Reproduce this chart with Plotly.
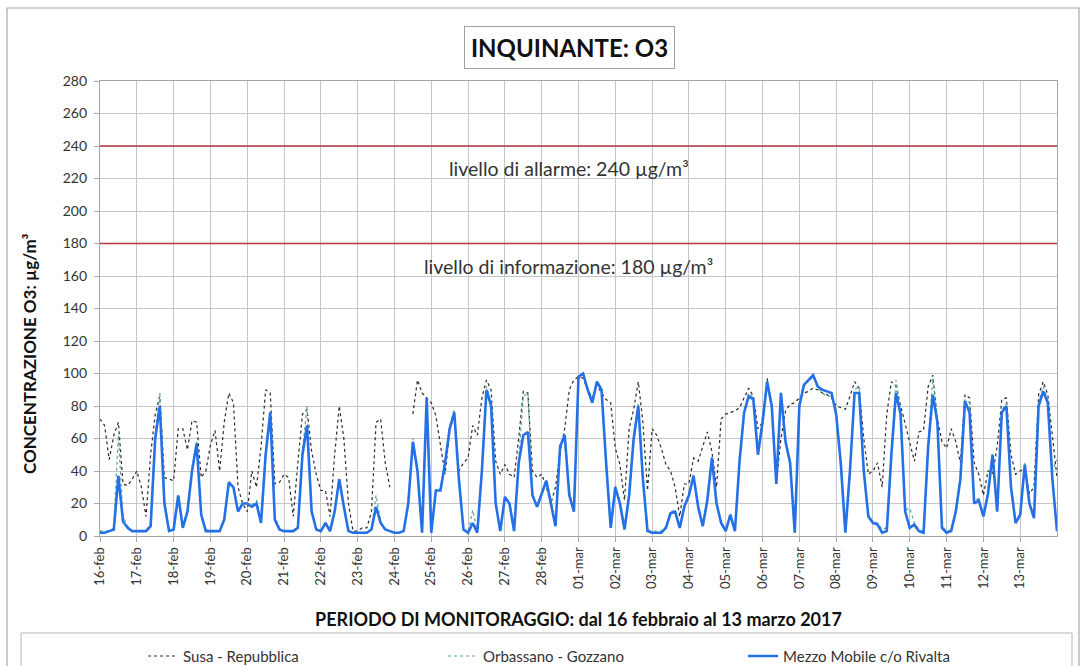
import pandas as pd
import plotly.graph_objects as go

# ---------------- data (3-hour samples, 16-feb 00:00 -> 14-mar 00:00) ----------------
START = "2017-02-16 00:00"
STEP = "3h"

DAY_LABELS = ["16-feb", "17-feb", "18-feb", "19-feb", "20-feb", "21-feb", "22-feb",
              "23-feb", "24-feb", "25-feb", "26-feb", "27-feb", "28-feb",
              "01-mar", "02-mar", "03-mar", "04-mar", "05-mar", "06-mar", "07-mar",
              "08-mar", "09-mar", "10-mar", "11-mar", "12-mar", "13-mar"]

SUSA = [
    72, 68, 47, 62, 70, 32, 31, 35,   # 16-feb
    40, 30, 12, 50, 75, 86, 36, 35,   # 17-feb
    34, 66, 66, 53, 71, 70, 36, 40,   # 18-feb
    56, 65, 40, 70, 88, 82, 30, 20,   # 19-feb
    15, 40, 30, 55, 90, 88, 32, 33,   # 20-feb
    38, 36, 12, 45, 75, 78, 52, 38,   # 21-feb
    28, 28, 12, 50, 80, 60, 20, 3,    # 22-feb
    3, 5, 5, 15, 70, 72, 45, 30,      # 23-feb
    None, None, None, None, 75, 96, 88, 85,  # 24-feb
    82, 74, 55, 38, 65, 75, 40, 45,   # 25-feb
    48, 68, 62, 85, 96, 90, 46, 38,   # 26-feb
    44, 38, 36, 60, 89, 88, 40, 36,   # 27-feb
    38, 30, 20, 30, 52, 66, 90, 96,   # 28-feb
    98, 97, 90, 85, 93, 88, 84, 82,   # 01-mar
    54, 44, 22, 66, 78, 95, 70, 28,   # 02-mar
    66, 62, 54, 44, 40, 30, 12, 32,   # 03-mar
    32, 48, 46, 55, 64, 52, 30, 72,   # 04-mar
    75, 76, 77, 79, 85, 91, 86, 66,   # 05-mar
    70, 97, 80, 33, 60, 77, 81, 82,   # 06-mar
    85, 88, 89, 91, 90, 88, 87, 85,   # 07-mar
    80, 79, 78, 86, 95, 91, 60, 38,   # 08-mar
    40, 45, 30, 75, 95, 92, 80, 70,   # 09-mar
    58, 46, 64, 65, 92, 99, 72, 58,   # 10-mar
    54, 66, 58, 45, 87, 85, 45, 38,   # 11-mar
    25, 40, 38, 55, 84, 85, 50, 38,   # 12-mar
    40, 42, 26, 30, 87, 95, 87, 60,   # 13-mar
    36,
]

ORBASSANO = [
    3, 3, 3, 5, 62, 12, 6, 3,
    3, 3, 3, 8, 62, 88, 22, 4,
    4, 22, 6, 16, 42, 58, 14, 4,
    3, 3, 3, 11, 34, 30, 16, 20,
    20, 19, 22, 10, 52, 77, 12, 5,
    3, 3, 3, 6, 52, 80, 16, 4,
    3, 8, 3, 15, 36, 18, 3, 2,
    2, 2, 2, 5, 25, 9, 4, 3,
    2, 2, 3, 22, 60, 42, 3, 84,
    3, 28, 29, 46, 68, 78, 36, 5,
    2, 16, 3, 42, 92, 82, 22, 3,
    25, 20, 4, 47, 86, 88, 26, 18,
    27, 35, 22, 8, 56, 63, 28, 16,
    97, 100, 90, 84, 95, 90, 46, 6,
    31, 22, 6, 26, 62, 82, 36, 4,
    3, 3, 3, 6, 15, 16, 6, 19,
    26, 38, 19, 7, 23, 49, 21, 9,
    4, 14, 4, 47, 77, 88, 85, 50,
    72, 96, 82, 34, 89, 58, 46, 3,
    82, 94, 95, 98, 91, 88, 86, 86,
    76, 46, 3, 42, 90, 92, 42, 13,
    9, 8, 4, 5, 52, 96, 78, 16,
    17, 8, 4, 3, 57, 97, 72, 6,
    3, 4, 16, 36, 84, 82, 22, 23,
    13, 27, 51, 16, 77, 82, 32, 9,
    14, 45, 21, 12, 82, 92, 84, 40,
    47,
]

MEZZO = [
    2, 2, 3, 4, 37, 9, 5, 3,          # 16-feb
    3, 3, 3, 6, 60, 80, 20, 3,        # 17-feb
    4, 25, 5, 15, 40, 57, 13, 3,      # 18-feb
    3, 3, 3, 10, 33, 30, 15, 20,      # 19-feb
    20, 18, 20, 8, 50, 76, 10, 4,     # 20-feb
    3, 3, 3, 5, 50, 68, 15, 4,        # 21-feb
    3, 8, 3, 15, 35, 18, 3, 2,        # 22-feb
    2, 2, 2, 4, 18, 8, 4, 3,          # 23-feb
    2, 2, 3, 20, 58, 40, 2, 85,       # 24-feb
    2, 28, 28, 45, 66, 76, 35, 4,     # 25-feb
    2, 8, 2, 40, 90, 80, 20, 3,       # 26-feb
    24, 20, 3, 45, 62, 64, 25, 18,    # 27-feb
    26, 34, 20, 6, 55, 62, 25, 15,    # 28-feb
    98, 100, 90, 82, 95, 90, 45, 5,   # 01-mar
    30, 20, 4, 25, 60, 80, 35, 3,     # 02-mar
    2, 2, 2, 5, 14, 15, 5, 18,        # 03-mar
    25, 37, 18, 6, 22, 48, 20, 8,     # 04-mar
    3, 13, 3, 46, 76, 86, 84, 50,     # 05-mar
    70, 95, 80, 32, 88, 58, 45, 2,    # 06-mar
    80, 93, 96, 99, 92, 90, 89, 88,   # 07-mar
    75, 45, 2, 40, 88, 88, 40, 12,    # 08-mar
    8, 7, 2, 3, 50, 88, 75, 15,       # 09-mar
    5, 7, 3, 2, 55, 87, 70, 5,        # 10-mar
    2, 3, 15, 35, 83, 76, 20, 22,     # 11-mar
    12, 26, 50, 15, 76, 80, 30, 8,    # 12-mar
    13, 44, 20, 11, 80, 89, 82, 35,   # 13-mar
    3,
]

THRESHOLDS = [240, 180]
THRESHOLD_LABELS = ["livello di allarme: 240 µg/m³", "livello di informazione: 180 µg/m³"]
THRESHOLD_LABEL_Y = [226, 166]

# ---------------------------------------------------------------------------------------
times = pd.date_range(START, periods=len(MEZZO), freq=STEP)
day_ticks = pd.date_range(START, periods=len(DAY_LABELS), freq="1D")

FONT = "Lato, 'Open Sans', sans-serif"

fig = go.Figure()
fig.add_trace(go.Scatter(x=times, y=SUSA, name="Susa - Repubblica", mode="lines",
                         line=dict(color="#2b2b2b", width=1.2, dash="dot")))
fig.add_trace(go.Scatter(x=times, y=ORBASSANO, name="Orbassano - Gozzano", mode="lines",
                         line=dict(color="#5aa39b", width=1.2, dash="dot")))
fig.add_trace(go.Scatter(x=times, y=MEZZO, name="Mezzo Mobile c/o Rivalta", mode="lines",
                         line=dict(color="#2470e6", width=2.6)))

for th in THRESHOLDS:
    fig.add_hline(y=th, line=dict(color="#b8363f", width=1.6), layer="above")

for txt, yy in zip(THRESHOLD_LABELS, THRESHOLD_LABEL_Y):
    fig.add_annotation(x=0.49, xref="paper", y=yy, yref="y", text=txt, showarrow=False,
                       xanchor="center", yanchor="middle",
                       font=dict(family=FONT, size=19.5, color="#333333"))

# title in a box
fig.add_annotation(x=0.491, xref="paper", y=1.0747, yref="paper",
                   xanchor="center", yanchor="middle",
                   text="<b>INQUINANTE: O3</b>", showarrow=False,
                   font=dict(family=FONT, size=24, color="#111111"),
                   bordercolor="#a0a0a0", borderwidth=1, borderpad=6, bgcolor="white")

# y-axis title (placed like the original, slightly below the plot centre)
fig.add_annotation(x=-0.0742, xref="paper", y=0.402, yref="paper",
                   xanchor="center", yanchor="middle", textangle=-90,
                   text="<b>CONCENTRAZIONE O3: µg/m³</b>", showarrow=False,
                   font=dict(family=FONT, size=17, color="#111111"))

# outer frame and legend frame
fig.add_shape(type="rect", xref="paper", yref="paper", x0=-0.0972, x1=1.023, y0=-0.33, y1=1.1604,
              line=dict(color="#a8a8a8", width=1.2), layer="below")
fig.add_shape(type="rect", xref="paper", yref="paper", x0=-0.0825, x1=1.0157, y0=-0.33, y1=-0.2132,
              line=dict(color="#b5b5b5", width=1), layer="below")

fig.update_layout(
    width=1083, height=666,
    margin=dict(l=100, r=26, t=81, b=130, autoexpand=False),
    paper_bgcolor="white", plot_bgcolor="white",
    font=dict(family=FONT, size=13, color="#333333"),
    showlegend=True,
    legend=dict(orientation="h", x=0.045, xanchor="left", y=-0.228, yanchor="top",
                entrywidth=255, entrywidthmode="pixels",
                font=dict(family=FONT, size=15, color="#333333"),
                bgcolor="rgba(0,0,0,0)", traceorder="normal"),
)

fig.update_xaxes(
    type="date", range=[times[0], times[-1]], automargin=False,
    tickvals=day_ticks, ticktext=DAY_LABELS, tickangle=-90,
    showgrid=True, gridcolor="#c6c6c6", gridwidth=1,
    showline=True, mirror=True, linecolor="#a6a6a6", linewidth=1.2,
    ticks="outside", ticklen=5, tickcolor="#a6a6a6",
    tickfont=dict(family=FONT, size=13, color="#333333"),
    title=dict(text="<b>PERIODO DI MONITORAGGIO: dal 16 febbraio al 13 marzo 2017</b>",
               font=dict(family=FONT, size=18, color="#111111"), standoff=25),
)
fig.update_yaxes(
    range=[0, 280], dtick=20, tick0=0, automargin=False,
    showgrid=True, gridcolor="#c6c6c6", gridwidth=1, zeroline=False,
    showline=True, mirror=True, linecolor="#a6a6a6", linewidth=1.2,
    ticks="outside", ticklen=5, tickcolor="#a6a6a6", ticklabelstandoff=4,
    tickfont=dict(family=FONT, size=14, color="#333333"),
)

fig.write_html("out.html", post_script="document.body.style.margin='0';",
               config={"displayModeBar": False})
